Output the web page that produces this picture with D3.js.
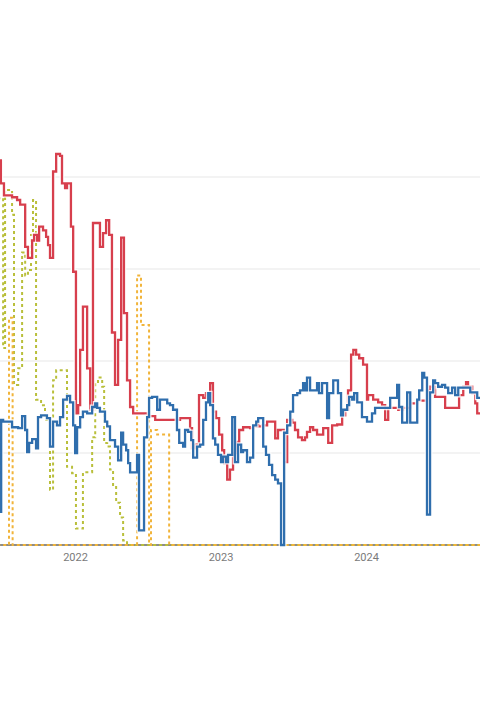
<!DOCTYPE html>
<html>
<head>
<meta charset="utf-8">
<script src="https://cdn.jsdelivr.net/npm/d3@7"></script>
<style>
  html, body { margin: 0; padding: 0; background: #fff; overflow: hidden; }
</style>
</head>
<body>
<div id="Canvas"></div>
<script>
// first week of the series (weeks counted from here)
let startWeek = new Date(2021, 5, 27)
let lastWeek = 175

// year ticks on the x axis
let yearTicks = [2022, 2023, 2024]
// horizontal grid values
let gridValues = [100, 200, 300, 400]

// [week, value] at every step change
let redSteps = [[-1,418],[0.3,393],[1.4,380],[4.3,378],[6.1,375],[7.2,370],[9.0,324],[10.0,312],[11.5,331],[12.2,337],
  [13.3,331],[14.0,346],[15.4,342],[16.5,335],[17.2,326],[17.9,312],[19.0,406],[20.1,425],[21.5,423],[22.2,393],
  [23.3,388],[24.0,393],[25.4,346],[26.2,297],[27.2,143],[28.0,152],[28.7,212],[29.7,259],[31.2,192],[32.3,147],
  [33.3,350],[35.8,324],[36.9,339],[38.0,353],[39.1,337],[40.1,231],[41.2,174],[42.3,223],[43.4,334],[44.4,252],
  [45.5,179],[46.6,150],[47.7,143],[53.0,140],[55.6,136],[60.9,136],[64.5,138],[68.1,127],[68.8,105],[69.9,109],
  [71.3,163],[72.8,160],[73.8,165],[75.3,176],[76.3,145],[77.4,138],[78.5,120],[79.6,103],[80.3,89],[81.4,71],
  [82.4,82],[83.5,100],[84.9,112],[85.7,125],[87.1,128],[89.6,127],[90.7,129],[91.8,133],[92.5,129],
  [93.9,130],[95.7,134],[98.6,116],[99.6,125],[101.8,90],[102.9,136],[104.7,133],[105.7,125],[106.8,117],[108.2,114],
  [109.3,117],[110.0,123],[111.1,128],[112.2,125],[113.6,120],[115.8,127],[117.6,111],[119.0,130],[120.8,131],[122.6,141],
  [123.7,147],[124.7,168],[125.8,207],[126.6,212],[127.6,207],[128.7,203],[130.1,196],[131.5,158],[131.9,163],[133.7,158],
  [135.5,155],[136.9,152],[138.0,136],[139.1,149],[142.7,147],[144.4,149],[147.0,154],[149.5,157],[153.0,168],[154.1,172],
  [155.9,161],[159.5,149],[164.5,163],[166.0,172],[167.0,177],[167.7,172],[169.2,165],[170.3,154],[171.0,143]]

let blueSteps = [[-1,36],[0.4,136],[1.1,134],[4.3,128],[6.5,127],[7.9,140],[9.0,125],[9.7,101],[10.4,111],[11.5,115],
  [12.9,105],[13.6,139],[14.7,141],[16.8,138],[17.9,107],[19.0,134],[20.4,130],[21.5,139],[22.6,158],[24.0,162],
  [25.1,155],[26.2,130],[26.9,100],[27.6,128],[28.7,139],[29.7,145],[31.2,143],[33.0,150],[34.1,154],[34.8,149],
  [35.8,145],[37.6,134],[38.4,129],[39.4,114],[41.2,107],[42.3,92],[43.4,122],[44.1,109],[45.2,103],[45.9,89],
  [46.6,79],[49.1,98],[49.8,16],[51.6,117],[52.7,139],[53.4,160],[54.5,161],[56.3,147],[57.3,158],[59.9,154],
  [60.9,152],[62.0,147],[63.4,125],[64.2,111],[65.6,107],[66.3,125],[67.4,123],[68.5,114],[69.2,95],[70.6,107],
  [71.7,109],[72.8,136],[73.8,155],[74.6,165],[75.3,152],[76.3,116],[77.1,109],[78.1,98],[79.2,90],[79.9,96],
  [81.0,90],[81.7,98],[83.2,139],[84.2,90],[85.3,109],[86.4,101],[87.1,103],[88.5,90],[89.6,95],[90.7,130],
  [91.8,134],[92.5,138],[94.3,107],[95.3,98],[96.4,87],[97.5,76],[98.6,71],[99.6,67],[100.7,0],[101.8,122],
  [102.9,130],[104.0,145],[105.0,163],[106.5,165],[107.5,168],[108.6,176],[109.3,168],[110.0,182],[111.1,168],[113.6,176],
  [114.3,165],[115.4,176],[117.2,138],[117.9,165],[119.4,179],[121.1,165],[122.2,141],[122.9,147],[124.4,152],[125.1,161],
  [126.2,158],[126.9,165],[128.0,155],[129.7,139],[131.5,134],[133.3,143],[134.4,149],[139.8,160],[142.3,174],[143.0,150],
  [144.1,133],[145.9,166],[147.0,133],[149.5,158],[150.2,168],[151.3,187],[152.0,182],[153.0,33],[154.1,166],[155.2,179],
  [155.9,176],[157.0,172],[158.4,174],[159.5,171],[160.6,165],[162.0,171],[163.1,163],[164.2,171],[168.5,166],[171.0,160]]

let greenSteps = [[-1,377],[1.1,214],[1.8,386],[4.3,359],[5.0,174],[6.5,192],[7.9,318],[9.0,293],[10.0,299],[11.1,337],
  [11.8,375],[12.9,158],[14.7,152],[16.1,136],[17.9,60],[19.0,179],[20.1,190],[24.0,85],[25.8,78],[27.2,18],
  [29.7,79],[33.0,117],[34.1,176],[35.1,182],[36.6,172],[37.3,111],[38.4,107],[39.4,82],[40.5,63],[41.6,46],
  [43.0,30],[44.1,5],[45.5,0]]

let orangeSteps = [[-1,0],[3.2,247],[4.5,0],[49.1,293],[50.5,239],[53.4,0],[54.1,125],[56.3,120],[60.6,0]]

//創建svg
let svg = d3.select("#Canvas")
    .append("svg")
    .attr("width", 480)
    .attr("height", 720)
    .style("font-family", "Roboto, 'Noto Sans', sans-serif")

//線性轉換
let xScale = d3.scaleTime()
    .domain([new Date(2022, 0, 1), new Date(2024, 0, 1)])
    .range([75, 366])
let yScale = d3.scaleLinear()
    .domain([0, 400])
    .range([545, 177])

// week number -> date
function weekDate(w){
    return new Date(startWeek.getTime() + w * 7 * 86400000)
}
// close every series at the right end with its last value
function withEnd(steps){
    let pts = steps.map(d => ({date: weekDate(d[0]), value: d[1]}))
    pts.push({date: weekDate(lastWeek), value: steps[steps.length - 1][1]})
    return pts
}

let stepLine = d3.line()
    .x(d => xScale(d.date))
    .y(d => yScale(d.value))
    .curve(d3.curveStepAfter)

// grid
svg.append("g")
    .selectAll("line")
    .data(gridValues)
    .enter()
    .append("line")
    .attr("x1", 0)
    .attr("x2", 480)
    .attr("y1", d => yScale(d))
    .attr("y2", d => yScale(d))
    .style("stroke", "#e8e8e8")
    .style("stroke-width", 1.2)

// x axis
let xAxis = d3.axisBottom(xScale)
    .tickValues(yearTicks.map(y => new Date(y, 0, 1)))
    .tickFormat(d3.timeFormat("%Y"))
    .tickSize(0)
    .tickPadding(8)
let axisG = svg.append("g")
    .attr("transform", "translate(0," + yScale(0) + ")")
    .call(xAxis)
axisG.select(".domain").remove()
axisG.selectAll("text")
    .style("font-size", "11px")
    .style("fill", "#7a7a7a")
    .style("font-family", "Roboto, 'Noto Sans', sans-serif")
svg.append("line")
    .attr("x1", 0)
    .attr("x2", 480)
    .attr("y1", yScale(0))
    .attr("y2", yScale(0))
    .style("stroke", "#666")
    .style("stroke-width", 1.5)

// dotted series
let dotted = [
    {steps: greenSteps, color: "#b9bf3b"},
    {steps: orangeSteps, color: "#f1b43a"}
]
dotted.forEach(s => {
    svg.append("path")
        .attr("d", stepLine(withEnd(s.steps)))
        .style("fill", "none")
        .style("stroke", s.color)
        .style("stroke-width", 2)
        .style("stroke-dasharray", "3,3")
})

// solid series with white halo
let solid = [
    {steps: redSteps, color: "#d73f4d"},
    {steps: blueSteps, color: "#2f6ead"}
]
solid.forEach(s => {
    let d = stepLine(withEnd(s.steps))
    svg.append("path")
        .attr("d", d)
        .style("fill", "none")
        .style("stroke", "#fff")
        .style("stroke-opacity", 0.85)
        .style("stroke-width", 4.8)
    svg.append("path")
        .attr("d", d)
        .style("fill", "none")
        .style("stroke", s.color)
        .style("stroke-width", 2.3)
})
</script>
</body>
</html>
